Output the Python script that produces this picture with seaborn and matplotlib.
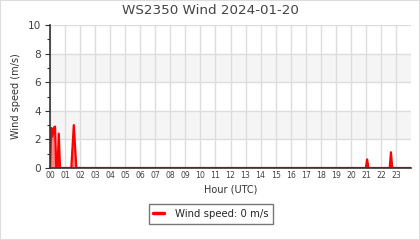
import matplotlib
matplotlib.use("Agg")
import matplotlib.pyplot as plt
import matplotlib.patches as mpatches
import seaborn as sns
import pandas as pd

# ---- data ----
times = ["00:00", "00:05", "00:10", "00:15", "00:20", "00:25", "00:30", "00:35", "00:40",
         "01:25", "01:35", "01:45", "21:00", "21:05", "21:10", "22:35", "22:40", "22:45", "23:59"]
speeds = [0.0, 2.8, 2.2, 2.8, 2.9, 0.0, 0.0, 2.4, 0.0,
          0.0, 3.0, 0.0, 0.0, 0.6, 0.0, 0.0, 1.1, 0.0, 0.0]
hour_labels = [f"{h:02d}" for h in range(24)]
y_ticks = [0, 2, 4, 6, 8, 10]
title = "WS2350 Wind 2024-01-20"
legend_label = "Wind speed: 0 m/s"

df = pd.DataFrame({
    "hour": [int(t[:2]) + int(t[3:]) / 60 for t in times],
    "speed": speeds,
})

sns.set_theme(style="white")
plt.rcParams["font.family"] = ["DejaVu Sans"]

fig = plt.figure(figsize=(4.2, 2.4), dpi=100)
ax = fig.add_axes([50 / 420, 1 - 168 / 240, 361 / 420, 143 / 240])

# background bands
for lo, hi in [(2, 4), (6, 8)]:
    ax.axhspan(lo, hi, color="#f5f5f5", zorder=0, lw=0)

ax.fill_between(df["hour"], df["speed"], 0, color="#ff2020", alpha=0.55, lw=0, zorder=2)
sns.lineplot(data=df, x="hour", y="speed", ax=ax, color="#ff0000", lw=1.6, zorder=3,
             legend=False)

ax.set_xlim(0, 24)
ax.set_ylim(0, 10)
ax.set_xticks(range(24))
ax.set_xticklabels(hour_labels)
ax.set_yticks(y_ticks)
ax.set_yticks([1, 3, 5, 7, 9], minor=True)

ax.grid(True, which="major", color="#dddddd", lw=1)
ax.set_axisbelow(True)

for s in ["top", "right"]:
    ax.spines[s].set_visible(False)
for s in ["left", "bottom"]:
    ax.spines[s].set_color("#333333")
    ax.spines[s].set_linewidth(1.2)
    ax.spines[s].set_zorder(4)

ax.tick_params(axis="x", length=0, pad=2.5, labelsize=5.6, labelcolor="#444444")
ax.tick_params(axis="y", which="major", left=True, length=3.6, width=0.8, color="#333333",
               pad=3, labelsize=7.6, labelcolor="#444444")
ax.tick_params(axis="y", which="minor", left=True, length=2, width=0.8, color="#333333")

ax.set_xlabel("Hour (UTC)", fontsize=7, color="#333333", labelpad=3)
ax.set_ylabel("Wind speed (m/s)", fontsize=7, color="#333333", labelpad=5)

fig.text(0.5, 1 - 10.5 / 240, title, ha="center", va="center", fontsize=9.7, color="#444444")

handle = plt.Line2D([], [], color="#ff0000", lw=2.5)
leg = fig.legend([handle], [legend_label], loc="center", bbox_to_anchor=(0.502, 1 - 214 / 240),
                 fontsize=7.3, frameon=True, fancybox=False, edgecolor="#777777",
                 handlelength=1.0, handletextpad=1.1, borderpad=0.45, borderaxespad=0,
                 framealpha=1)
leg.get_frame().set_linewidth(1.0)

fig.patches.append(mpatches.Rectangle((0, 0), 1, 1, transform=fig.transFigure,
                                      fill=False, edgecolor="#dddddd", lw=1.5))

fig.savefig("out.png", dpi=100, facecolor="white")
